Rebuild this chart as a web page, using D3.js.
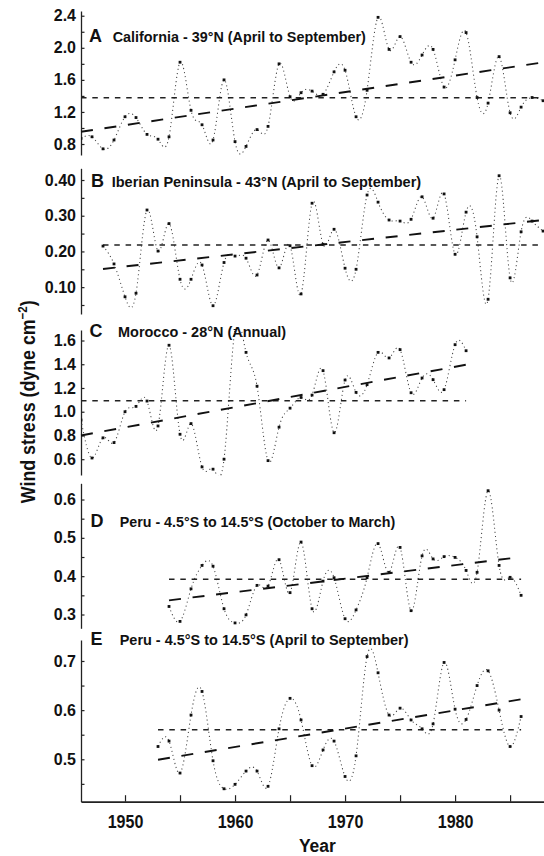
<!DOCTYPE html>
<html><head><meta charset="utf-8">
<script src="https://cdn.jsdelivr.net/npm/d3@7"></script>
<style>
body{margin:0;background:#fff}
svg{display:block}
text{font-family:"Liberation Sans",Arial,Helvetica,sans-serif;font-weight:bold;fill:#111}
</style>
</head><body>
<svg id="c" width="544" height="856"></svg>
<script>
// ---------------- DATA ----------------
const yearsA = [1946,1947,1948,1949,1950,1951,1952,1953,1954,1955,1956,1957,1958,1959,1960,1961,1962,1963,1964,1965,1966,1967,1968,1969,1970,1971,1972,1973,1974,1975,1976,1977,1978,1979,1980,1981,1982,1983,1984,1985,1986,1987,1988];
const valuesA = [0.87,0.89,0.74,0.85,1.14,1.13,0.92,0.86,0.89,1.82,1.22,1.04,0.85,1.60,0.83,0.77,0.98,1.02,1.80,1.39,1.44,1.46,1.42,1.70,1.72,1.14,1.47,2.38,1.98,2.14,1.82,1.91,1.98,1.51,1.85,2.19,1.38,1.31,1.89,1.19,1.26,1.38,1.34];

const yearsB = [1948,1949,1950,1951,1952,1953,1954,1955,1956,1957,1958,1959,1960,1961,1962,1963,1964,1965,1966,1967,1968,1969,1970,1971,1972,1973,1974,1975,1976,1977,1978,1979,1980,1981,1982,1983,1984,1985,1986,1987,1988];
const valuesB = [0.215,0.165,0.073,0.083,0.316,0.201,0.278,0.122,0.122,0.162,0.048,0.169,0.187,0.181,0.134,0.232,0.154,0.216,0.081,0.335,0.220,0.262,0.153,0.150,0.358,0.338,0.288,0.285,0.290,0.353,0.293,0.361,0.192,0.310,0.241,0.066,0.412,0.126,0.255,0.285,0.257];

const yearsC = [1946,1947,1948,1949,1950,1951,1952,1953,1954,1955,1956,1957,1958,1959,1960,1961,1962,1963,1964,1965,1966,1967,1968,1969,1970,1971,1972,1973,1974,1975,1976,1977,1978,1979,1980,1981];
const valuesC = [0.93,0.61,0.78,0.74,1.00,1.045,1.09,0.88,1.56,0.81,0.90,0.535,0.516,0.60,1.70,1.50,1.215,0.588,0.87,1.03,1.12,1.14,1.346,0.823,1.267,1.163,1.228,1.50,1.453,1.523,1.16,1.284,1.27,1.186,1.565,1.514];

const yearsD = [1954,1955,1956,1957,1958,1959,1960,1961,1962,1963,1964,1965,1966,1967,1968,1969,1970,1971,1972,1973,1974,1975,1976,1977,1978,1979,1980,1981,1982,1983,1984,1985,1986];
const valuesD = [0.321,0.282,0.367,0.428,0.426,0.315,0.278,0.299,0.376,0.374,0.443,0.357,0.489,0.315,0.387,0.396,0.289,0.312,0.396,0.485,0.410,0.475,0.310,0.453,0.445,0.451,0.449,0.415,0.410,0.623,0.428,0.397,0.350];

const yearsE = [1953,1954,1955,1956,1957,1958,1959,1960,1961,1962,1963,1964,1965,1966,1967,1968,1969,1970,1971,1972,1973,1974,1975,1976,1977,1978,1979,1980,1981,1982,1983,1984,1985,1986];
const valuesE = [0.526,0.537,0.472,0.590,0.638,0.497,0.440,0.449,0.476,0.476,0.445,0.562,0.624,0.580,0.487,0.519,0.537,0.465,0.507,0.709,0.676,0.590,0.604,0.580,0.562,0.572,0.697,0.602,0.581,0.650,0.680,0.600,0.526,0.587];

// long-term mean [fromYear, toYear, value]
const meanA = [1946, 1988, 1.377];
const meanB = [1948, 1988, 0.218];
const meanC = [1946, 1981, 1.093];
const meanD = [1954, 1986, 0.392];
const meanE = [1953, 1986, 0.560];

// linear trend end points [[year, value], [year, value]]
const trendA = [[1946, 0.953], [1988, 1.818]];
const trendB = [[1948, 0.151], [1988, 0.288]];
const trendC = [[1946, 0.800], [1981, 1.396]];
const trendD = [[1954, 0.337], [1986, 0.450]];
const trendE = [[1953, 0.499], [1986, 0.622]];

// y ticks and labelled ticks
const ticksA = [0.8,1.0,1.2,1.4,1.6,1.8,2.0,2.2,2.4];
const labelsA = [0.8,1.2,1.6,2.0,2.4];
const ticksB = [0.05,0.10,0.15,0.20,0.25,0.30,0.35,0.40];
const labelsB = [0.10,0.20,0.30,0.40];
const ticksC = [0.6,0.8,1.0,1.2,1.4,1.6];
const labelsC = [0.6,0.8,1.0,1.2,1.4,1.6];
const ticksD = [0.30,0.35,0.40,0.45,0.50,0.55,0.60];
const labelsD = [0.3,0.4,0.5,0.6];
const ticksE = [0.45,0.50,0.55,0.60,0.65,0.70];
const labelsE = [0.5,0.6,0.7];

const panelLetters = ["A","B","C","D","E"];
const panelTitles = [
  "California - 39°N (April to September)",
  "Iberian Peninsula - 43°N (April to September)",
  "Morocco - 28°N (Annual)",
  "Peru - 4.5°S to 14.5°S (October to March)",
  "Peru - 4.5°S to 14.5°S (April to September)"
];

const xTicks = [1950,1955,1960,1965,1970,1975,1980,1985];
const xLabels = [1950,1960,1970,1980];
const xTitle = "Year";
const yTitle = "Wind stress (dyne cm";

// ---------------- LAYOUT ----------------
const layout = [
  {top:11,    bottom:155,   lo:0.663, hi:2.459, fmt:".1f", lx:89, tx:112.7, tw:253.3, by:42.3},
  {top:168.3, bottom:314,   lo:0.0248,hi:0.4328,fmt:".2f", lx:91, tx:111.7, tw:309.8, by:186.7},
  {top:330,   bottom:475,   lo:0.4669,hi:1.6885,fmt:".1f", lx:89.5, tx:118, tw:168.2, by:336.7},
  {top:483.3, bottom:628.3, lo:0.264, hi:0.6423,fmt:".1f", lx:90.5, tx:119.7, tw:275.8, by:526.7},
  {top:640,   bottom:801.7, lo:0.4137,hi:0.7427,fmt:".1f", lx:90.5, tx:119.7, tw:288.9, by:645}
];

const panels = [
  {years:yearsA, values:valuesA, mean:meanA, trend:trendA, ticks:ticksA, labels:labelsA},
  {years:yearsB, values:valuesB, mean:meanB, trend:trendB, ticks:ticksB, labels:labelsB},
  {years:yearsC, values:valuesC, mean:meanC, trend:trendC, ticks:ticksC, labels:labelsC},
  {years:yearsD, values:valuesD, mean:meanD, trend:trendD, ticks:ticksD, labels:labelsD},
  {years:yearsE, values:valuesE, mean:meanE, trend:trendE, ticks:ticksE, labels:labelsE}
];

const svg = d3.select("#c");
const x = d3.scaleLinear().domain([1946, 1990]).range([81, 565.1]);
const axisX = x(1946);
const defs = svg.append("defs");

function fitWidth(sel, target) {
  const w = sel.node().getComputedTextLength();
  return w > 0 ? target / w : 1;
}

panels.forEach((p, i) => {
  const L = layout[i];
  const y = d3.scaleLinear().domain([L.lo, L.hi]).range([L.bottom, L.top]);
  const g = svg.append("g");
  const cid = "clip" + i;
  defs.append("clipPath").attr("id", cid).append("rect")
    .attr("x", axisX).attr("y", L.top - 1).attr("width", 600).attr("height", L.bottom - L.top + 2);

  const fmt = d3.format(L.fmt);
  const axis = d3.axisLeft(y).tickValues(p.ticks).tickSize(-3.5).tickSizeOuter(0).tickPadding(5)
    .tickFormat(d => p.labels.some(v => Math.abs(v - d) < 1e-9) ? fmt(d) : "");
  const ag = g.append("g").attr("transform", `translate(${axisX},0)`).call(axis)
    .attr("font-size", null).attr("font-family", null);
  ag.select(".domain").attr("stroke", "#222").attr("stroke-width", 1.3);
  ag.selectAll(".tick line").attr("stroke", "#222").attr("stroke-width", 1.2);
  ag.selectAll(".tick text").attr("font-size", 16).attr("fill", "#111");

  const pts = p.years.map((yr, k) => [yr, p.values[k]]);
  const curve = d3.line().x(d => x(d[0])).y(d => y(d[1])).curve(d3.curveNatural);
  g.append("path").datum(pts).attr("d", curve).attr("fill", "none")
    .attr("stroke", "#444").attr("stroke-width", 1.05).attr("stroke-dasharray", "1.1,3")
    .attr("clip-path", `url(#${cid})`);

  // mean line
  g.append("line")
    .attr("x1", x(p.mean[0])).attr("x2", x(p.mean[1]))
    .attr("y1", y(p.mean[2])).attr("y2", y(p.mean[2]))
    .attr("stroke", "#222").attr("stroke-width", 1.6).attr("stroke-dasharray", "5.5,5.8");

  // trend line
  const straight = d3.line().x(d => x(d[0])).y(d => y(d[1]));
  g.append("path").datum(p.trend).attr("d", straight).attr("fill", "none")
    .attr("stroke", "#111").attr("stroke-width", 1.9).attr("stroke-dasharray", "12,11.7");

  // points
  g.selectAll("rect.pt").data(pts).join("rect").attr("class", "pt")
    .attr("x", d => x(d[0]) - 1.4).attr("y", d => y(d[1]) - 1.4)
    .attr("width", 2.8).attr("height", 2.8).attr("fill", "#111")
    .attr("clip-path", `url(#${cid})`);

  // panel label
  g.append("text").attr("x", L.lx).attr("y", L.by).attr("font-size", 18).text(panelLetters[i]);
  const t = g.append("text").attr("x", 0).attr("y", 0).attr("font-size", 15.5).text(panelTitles[i]);
  const s = fitWidth(t, L.tw);
  t.attr("transform", `translate(${L.tx},${L.by}) scale(${s},1)`);
});

// x axis
const xa = d3.axisBottom(x).tickValues(xTicks).tickSize(-6.5).tickSizeOuter(0).tickPadding(0)
  .tickFormat(d => xLabels.includes(d) ? String(d) : "");
const xg = svg.append("g").attr("transform", "translate(0,801.7)").call(xa)
  .attr("font-size", null).attr("font-family", null);
xg.select(".domain").attr("stroke", "#222").attr("stroke-width", 1.8);
xg.selectAll(".tick line").attr("stroke", "#222").attr("stroke-width", 1.2);
xg.selectAll(".tick text").attr("font-size", 18).attr("fill", "#111").attr("y", 0).attr("dy", 0)
  .each(function () {
    const sel = d3.select(this);
    if (!sel.text()) return;
    const s = fitWidth(sel, 35.7);
    sel.attr("transform", `translate(0,26.6) scale(${s},1)`);
  });

// x title
const xt = svg.append("text").attr("text-anchor", "middle").attr("font-size", 18.5).text(xTitle);
xt.attr("transform", `translate(317.4,851.7) scale(${fitWidth(xt, 37)},1)`);

// y title
const yt = svg.append("text").attr("text-anchor", "middle").attr("font-size", 20);
yt.append("tspan").text(yTitle);
yt.append("tspan").attr("font-size", 13).attr("dy", -8).text("−2");
yt.append("tspan").attr("dy", 8).text(")");
yt.attr("transform", `translate(34.5,401.7) rotate(-90) scale(${fitWidth(yt, 203)},1)`);
</script>
</body></html>
